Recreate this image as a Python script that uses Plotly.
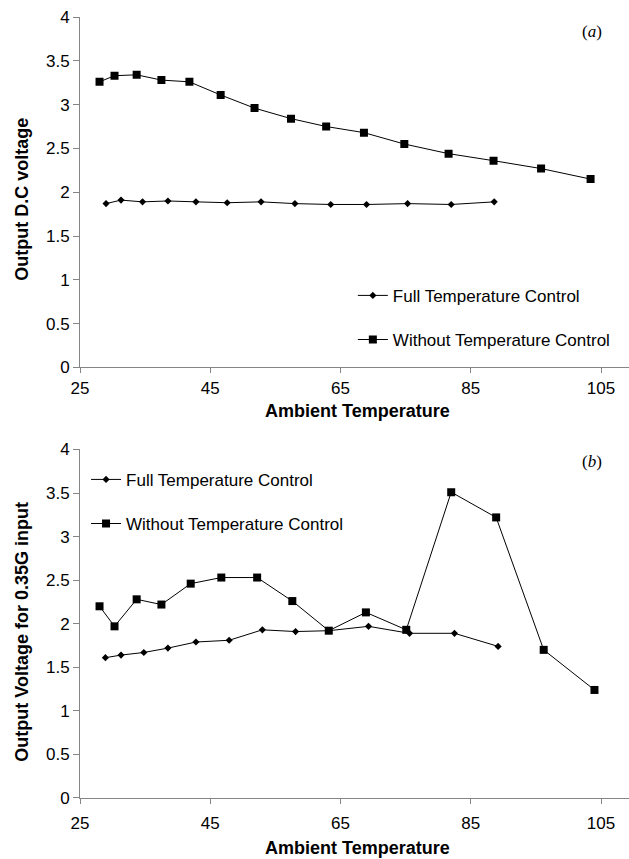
import plotly.graph_objects as go

# ---- data ----
x_ticks = [25, 45, 65, 85, 105]
y_ticks = [0, 0.5, 1, 1.5, 2, 2.5, 3, 3.5, 4]
y_tick_text = ["0", "0.5", "1", "1.5", "2", "2.5", "3", "3.5", "4"]

series_names = ["Full Temperature Control", "Without Temperature Control"]

# Panel (a): Output D.C voltage
a_full_x = [29.0, 31.3, 34.6, 38.5, 42.8, 47.6, 52.8, 58.0, 63.5, 69.0, 75.3, 82.0, 88.6]
a_full_y = [1.87, 1.91, 1.89, 1.90, 1.89, 1.88, 1.89, 1.87, 1.86, 1.86, 1.87, 1.86, 1.89]
a_wo_x = [28.0, 30.3, 33.7, 37.5, 41.8, 46.6, 51.8, 57.4, 62.8, 68.6, 74.8, 81.6, 88.5, 95.8, 103.4]
a_wo_y = [3.26, 3.33, 3.34, 3.28, 3.26, 3.11, 2.96, 2.84, 2.75, 2.68, 2.55, 2.44, 2.36, 2.27, 2.15]

# Panel (b): Output Voltage for 0.35G input
b_full_x = [28.9, 31.3, 34.8, 38.5, 42.8, 47.9, 53.0, 58.1, 63.2, 69.3, 75.6, 82.5, 89.2]
b_full_y = [1.61, 1.64, 1.67, 1.72, 1.79, 1.81, 1.93, 1.91, 1.92, 1.97, 1.89, 1.89, 1.74]
b_wo_x = [28.0, 30.3, 33.7, 37.5, 42.0, 46.7, 52.2, 57.6, 63.2, 68.9, 75.1, 82.0, 88.9, 96.2, 104.0]
b_wo_y = [2.20, 1.97, 2.28, 2.22, 2.46, 2.53, 2.53, 2.26, 1.92, 2.13, 1.93, 3.51, 3.22, 1.70, 1.24]

FONT = "Liberation Sans, Arial, sans-serif"
AXIS_COLOR = "#858585"

fig = go.Figure()

def add_pair(fx, fy, wx, wy, xa, ya, legend):
    fig.add_trace(go.Scatter(
        x=fx, y=fy, mode="lines+markers", name=series_names[0],
        xaxis=xa, yaxis=ya, legend=legend, legendgroup=legend + "f",
        line=dict(color="black", width=1),
        marker=dict(symbol="diamond", size=5.5, color="black")))
    fig.add_trace(go.Scatter(
        x=wx, y=wy, mode="lines+markers", name=series_names[1],
        xaxis=xa, yaxis=ya, legend=legend, legendgroup=legend + "w",
        line=dict(color="black", width=1),
        marker=dict(symbol="square", size=8, color="black")))

add_pair(a_full_x, a_full_y, a_wo_x, a_wo_y, "x", "y", "legend")
add_pair(b_full_x, b_full_y, b_wo_x, b_wo_y, "x2", "y2", "legend2")

top_dom = [0.5513, 1.0]
bot_dom = [0.0, 0.4463]

def xaxis_style(standoff):
    return dict(range=[25, 109.3], tickvals=x_ticks, ticktext=[str(v) for v in x_ticks],
                showline=True, linecolor=AXIS_COLOR, linewidth=1,
                ticks="outside", ticklen=5, tickcolor=AXIS_COLOR, tickwidth=1,
                ticklabelstandoff=standoff,
                showgrid=False, zeroline=False,
                tickfont=dict(family=FONT, size=17, color="black"))

ycommon = dict(range=[0, 4], tickvals=y_ticks, ticktext=y_tick_text,
               showline=True, linecolor=AXIS_COLOR, linewidth=1,
               ticks="outside", ticklen=6, tickcolor=AXIS_COLOR, tickwidth=1,
               showgrid=False, zeroline=False,
               tickfont=dict(family=FONT, size=17, color="black"))

legcommon = dict(font=dict(family=FONT, size=17, color="black"),
                 bgcolor="rgba(0,0,0,0)", borderwidth=0,
                 traceorder="grouped", tracegroupgap=19,
                 xanchor="left", yanchor="top", itemwidth=30)

fig.update_layout(
    width=629, height=859,
    margin=dict(l=80, r=0, t=17.3, b=60.7),
    paper_bgcolor="white", plot_bgcolor="white",
    showlegend=True,
    xaxis=dict(domain=[0, 1], anchor="y", **xaxis_style(0)),
    yaxis=dict(domain=top_dom, anchor="x", **ycommon),
    xaxis2=dict(domain=[0, 1], anchor="y2", **xaxis_style(5)),
    yaxis2=dict(domain=bot_dom, anchor="x2", **ycommon),
    legend=dict(x=0.497, y=0.666, **legcommon),
    legend2=dict(x=0.011, y=0.4304, **legcommon),
    annotations=[
        dict(text="<b>Ambient Temperature</b>", xref="paper", yref="paper",
             x=0.505, y=0.495, xanchor="center", yanchor="middle", showarrow=False,
             font=dict(family=FONT, size=18, color="black")),
        dict(text="<b>Ambient Temperature</b>", xref="paper", yref="paper",
             x=0.505, y=-0.0636, xanchor="center", yanchor="middle", showarrow=False,
             font=dict(family=FONT, size=18, color="black")),
        dict(text="<b>Output D.C voltage</b>", xref="paper", yref="paper",
             x=-0.1056, y=0.766, xanchor="center", yanchor="middle", showarrow=False,
             textangle=-90, font=dict(family=FONT, size=18, color="black")),
        dict(text="<b>Output Voltage for 0.35G input</b>", xref="paper", yref="paper",
             x=-0.1056, y=0.213, xanchor="center", yanchor="middle", showarrow=False,
             textangle=-90, font=dict(family=FONT, size=18, color="black")),
        dict(text="(<i>a</i>)", xref="paper", yref="paper",
             x=0.9326, y=0.9812, xanchor="center", yanchor="middle", showarrow=False,
             font=dict(family="Liberation Serif, Times New Roman, serif", size=17, color="black")),
        dict(text="(<i>b</i>)", xref="paper", yref="paper",
             x=0.9326, y=0.4310, xanchor="center", yanchor="middle", showarrow=False,
             font=dict(family="Liberation Serif, Times New Roman, serif", size=17, color="black")),
    ],
)

fig.write_html("out.html")
